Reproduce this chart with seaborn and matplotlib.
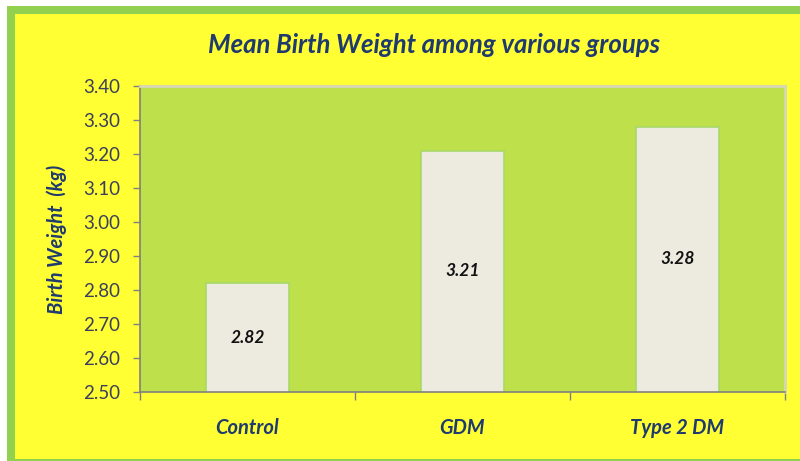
import matplotlib
matplotlib.use("Agg")
import matplotlib.pyplot as plt
import seaborn as sns
import pandas as pd
from matplotlib.patches import Rectangle

# Data
groups = ["Control", "GDM", "Type 2 DM"]
birth_weight = [2.82, 3.21, 3.28]
yticks = [2.50, 2.60, 2.70, 2.80, 2.90, 3.00, 3.10, 3.20, 3.30, 3.40]

df = pd.DataFrame({"group": groups, "weight": birth_weight})

sns.set_style("white")
plt.rcParams["font.family"] = ["Lato", "DejaVu Sans"]

navy = "#1f3a6e"
fig = plt.figure(figsize=(8, 4.61), dpi=100, facecolor="white")

# outer green frame and yellow background
fig.patches.append(Rectangle((7/800, 0), 793/800, 455/461, transform=fig.transFigure,
                             facecolor="#92d050", edgecolor="none", zorder=-2))
fig.patches.append(Rectangle((15/800, 2/461), 785/800, 445/461, transform=fig.transFigure,
                             facecolor="#ffff33", edgecolor="none", zorder=-1))

ax = fig.add_axes([140/800, 69/461, 645/800, 306/461])
ax.set_facecolor("#bee04a")

sns.barplot(data=df, x="group", y="weight", color="#edebe0", width=0.39,
            edgecolor="#a8d86a", linewidth=1.2, saturation=1, ax=ax)

ax.set_ylim(2.5, 3.4)
ax.set_xlim(-0.5, 2.5)
ax.set_yticks(yticks)
ax.set_yticklabels([f"{v:.2f}" for v in yticks], fontsize=13.5, color="#3a3f5c")
ax.tick_params(axis="y", direction="out", length=5, width=1, color="#808080", left=True, pad=9)

ax.set_xticks([0, 1, 2])
ax.set_xticklabels(groups, fontsize=14.5, fontweight="bold", fontstyle="italic", color=navy)
ax.tick_params(axis="x", length=0, pad=19)
ax.set_xticks([-0.5, 0.5, 1.5, 2.5], minor=True)
ax.tick_params(axis="x", which="minor", direction="out", length=6, width=1, color="#808080", bottom=True)

for side in ["left", "bottom"]:
    ax.spines[side].set_color("#808080")
    ax.spines[side].set_linewidth(1.2)
for side in ["top", "right"]:
    ax.spines[side].set_color("#d6d6b8")
    ax.spines[side].set_linewidth(2)

ax.set_xlabel("")
ax.set_ylabel("Birth Weight  (kg)", fontsize=14.5, fontweight="bold", fontstyle="italic",
              color=navy, labelpad=12)

# value labels at the middle of each bar
for i, v in enumerate(birth_weight):
    ax.text(i, (2.5 + v) / 2, f"{v:.2f}", ha="center", va="center", fontsize=12.5,
            fontweight="bold", fontstyle="italic", color="#111111")

fig.text(434/800, 1 - 45/461, "Mean Birth Weight among various groups", ha="center", va="center",
         fontsize=18.5, fontweight="bold", fontstyle="italic", color=navy)

fig.savefig("out.png", dpi=100, facecolor=fig.get_facecolor())
